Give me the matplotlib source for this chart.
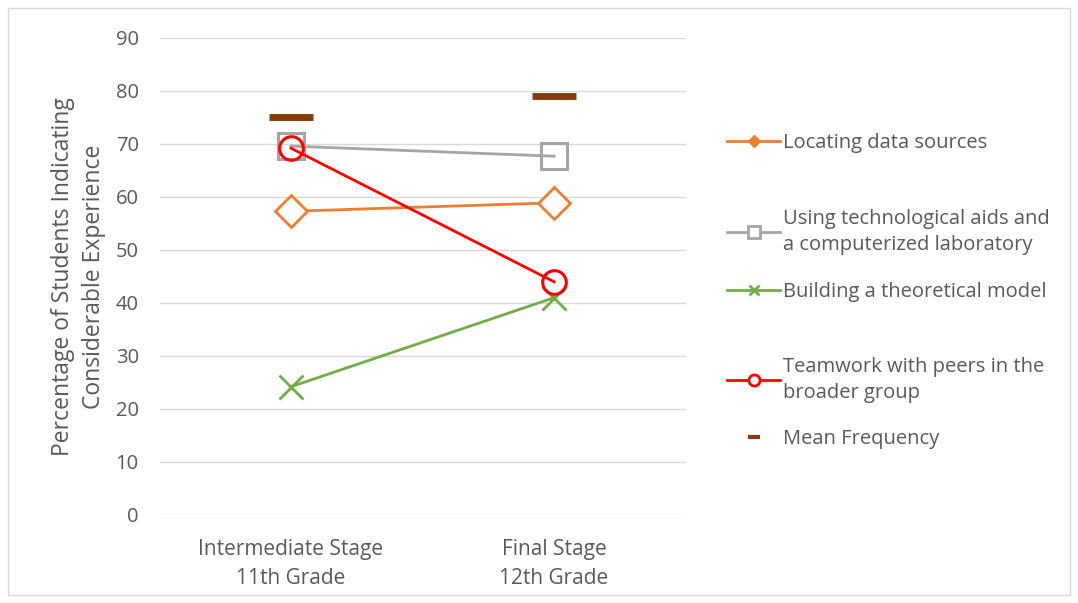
import numpy as np
import matplotlib
matplotlib.use("Agg")
import matplotlib.pyplot as plt
from matplotlib.lines import Line2D
from matplotlib.patches import Rectangle

# --- data ---
stages = ["Intermediate Stage\n11th Grade", "Final Stage\n12th Grade"]
locating = [57.3, 58.9]
tech_aids = [69.6, 67.7]
theory_model = [24.2, 41.0]
teamwork = [69.2, 44.0]
mean_freq = [75.1, 79.1]

series_labels = [
    "Locating data sources",
    "Using technological aids and\na computerized laboratory",
    "Building a theoretical model",
    "Teamwork with peers in the\nbroader group",
    "Mean Frequency",
]

TXT = "#595959"
FS = 14.5
plt.rcParams["font.family"] = ["Open Sans", "DejaVu Sans"]
plt.rcParams["font.size"] = FS

fig = plt.figure(figsize=(10.78, 6.03), dpi=100)
ax = fig.add_axes([0.148, 0.146, 0.488, 0.791])

x = np.arange(len(stages))

ax.plot(x, locating, color="#ED7D31", lw=2, marker="D", ms=16,
        mfc="white", mec="#ED7D31", mew=2, zorder=3)
ax.plot(x, tech_aids, color="#A5A5A5", lw=2, marker="s", ms=19,
        mfc="none", mec="#A5A5A5", mew=2.2, zorder=3)
ax.plot(x, theory_model, color="#70AD47", lw=2, marker="x", ms=17,
        mec="#70AD47", mew=2, zorder=3)
ax.plot(x, teamwork, color="#FF0000", lw=2, marker="o", ms=17,
        mfc="none", mec="#FF0000", mew=2.2, zorder=4)
ax.plot(x, mean_freq, ls="none", marker="_", ms=31, mew=5,
        color="#843C0C", zorder=3)

ax.set_xlim(-0.5, 1.5)
ax.set_ylim(0, 90)
ax.set_yticks(np.arange(0, 91, 10))
ax.set_xticks(x)
ax.set_xticklabels(stages, linespacing=1.5, fontsize=15)
ax.tick_params(length=0, colors=TXT)
ax.tick_params(axis="y", pad=15, labelsize=FS)
ax.tick_params(axis="x", pad=17)
ax.grid(axis="y", color="#D9D9D9", lw=1)
ax.set_axisbelow(True)
for s in ax.spines.values():
    s.set_visible(False)
ax.set_ylabel("Percentage of Students Indicating\nConsiderable Experience",
              color=TXT, fontsize=16.5, labelpad=7, linespacing=1.4)

# legend, one entry at a time so the spacing matches
handles = [
    Line2D([], [], color="#ED7D31", lw=2, marker="D", ms=6, mfc="#ED7D31"),
    Line2D([], [], color="#A5A5A5", lw=2, marker="s", ms=8, mfc="white", mew=2),
    Line2D([], [], color="#70AD47", lw=2, marker="x", ms=7, mew=2),
    Line2D([], [], color="#FF0000", lw=2, marker="o", ms=8, mfc="white", mew=2),
    Line2D([], [], ls="none", marker="_", ms=8, mew=3, color="#843C0C"),
]
ypos = [143, 232, 292, 380, 439]
for h, lab, yp in zip(handles, series_labels, ypos):
    leg = fig.legend([h], [lab], loc="center left",
                     bbox_to_anchor=(727 / 1078, 1 - yp / 603),
                     frameon=False, handlelength=2.65, handletextpad=0.12,
                     fontsize=FS, labelcolor=TXT, borderaxespad=0,
                     borderpad=0)
    for t in leg.get_texts():
        t.set_linespacing(1.45)

fig.patches.append(Rectangle((8 / 1078, 8 / 603), 1 - 16 / 1078, 1 - 16 / 603,
                             transform=fig.transFigure, fill=False,
                             ec="#D9D9D9", lw=1))

fig.savefig("out.png", dpi=100)
